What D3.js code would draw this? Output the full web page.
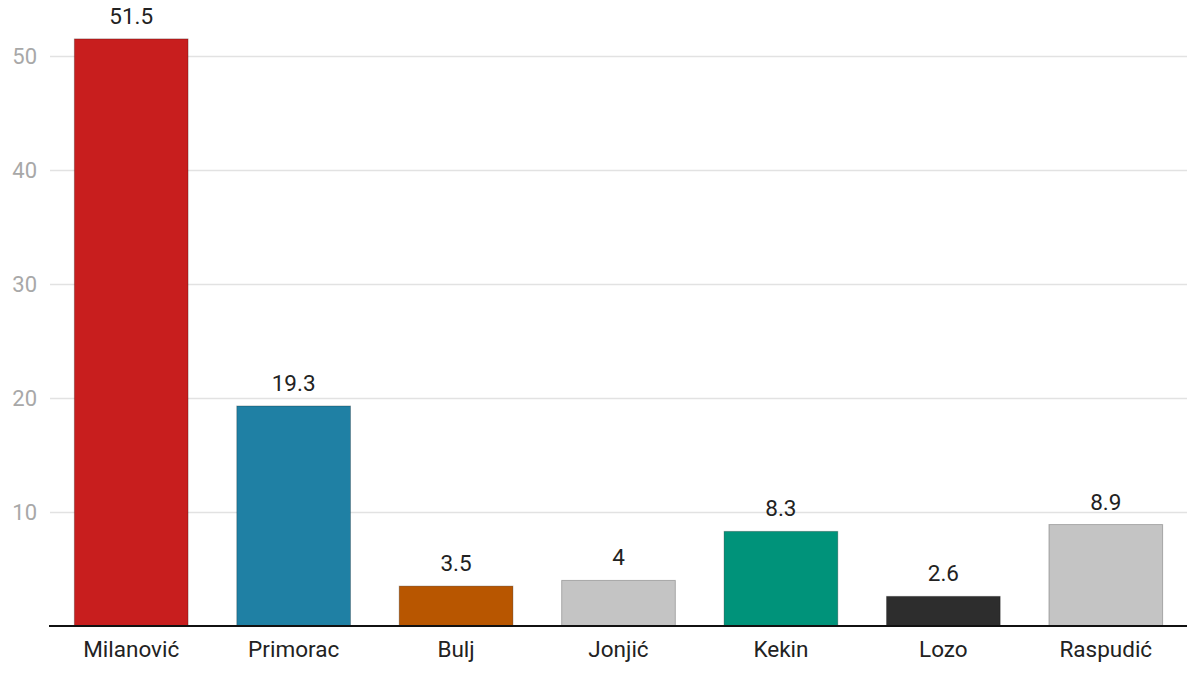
<!DOCTYPE html>
<html>
<head>
<meta charset="utf-8">
<script src="https://cdn.jsdelivr.net/npm/d3@7"></script>
<style>
  body { margin: 0; background: #fff; }
  text { font-family: Roboto, sans-serif; }
</style>
</head>
<body>
<div id="chart"></div>
<script>
const candidates = ['Milanović', 'Primorac', 'Bulj', 'Jonjić', 'Kekin', 'Lozo', 'Raspudić'];
const values = [51.5, 19.3, 3.5, 4, 8.3, 2.6, 8.9];
const colors = ['#c81e1e', '#1f80a4', '#b85600', '#c4c4c4', '#00937a', '#2d2d2d', '#c4c4c4'];
const yTicks = [10, 20, 30, 40, 50];

const data = candidates.map((name, i) => ({name, value: values[i], color: colors[i]}));

const width = 1200, height = 689;
const margin = {top: 56, right: 13, bottom: 63, left: 50};

const svg = d3.select('#chart')
  .append('svg')
  .attr('width', width)
  .attr('height', height);

const x = d3.scaleBand()
  .domain(candidates)
  .range([margin.left, width - margin.right])
  .paddingInner(0.3)
  .paddingOuter(0.15);

const y = d3.scaleLinear()
  .domain([0, 50])
  .range([height - margin.bottom, margin.top]);

// gridlines + y labels
const gy = svg.append('g')
  .attr('transform', `translate(${margin.left},0)`)
  .call(d3.axisLeft(y).tickValues(yTicks).tickSize(-(width - margin.left - margin.right)).tickPadding(13))
  .call(g => g.select('.domain').remove());
gy.selectAll('line').attr('stroke', '#e2e2e2').attr('stroke-width', 1.5);
gy.selectAll('text')
  .attr('fill', '#a8a8a8')
  .style('font-size', '22px');

// bars
svg.selectAll('rect.bar')
  .data(data)
  .join('rect')
  .attr('class', 'bar')
  .attr('x', d => x(d.name))
  .attr('y', d => y(d.value))
  .attr('width', x.bandwidth())
  .attr('height', d => y(0) - y(d.value))
  .attr('fill', d => d.color)
  .attr('stroke', 'rgba(0,0,0,0.25)')
  .attr('stroke-width', 1);

// value labels
svg.selectAll('text.val')
  .data(data)
  .join('text')
  .attr('class', 'val')
  .attr('x', d => x(d.name) + x.bandwidth() / 2)
  .attr('y', d => y(d.value) - 15)
  .attr('text-anchor', 'middle')
  .attr('fill', '#222')
  .style('font-size', '22.5px')
  .text(d => d.value);

// x axis
const gx = svg.append('g')
  .attr('transform', `translate(0,${y(0)})`)
  .call(d3.axisBottom(x).tickSize(0).tickPadding(15))
  .call(g => g.select('.domain').attr('stroke', '#111').attr('stroke-width', 2)
    .attr('d', `M${margin.left - 1},0H${width - margin.right}`));
gx.selectAll('text')
  .attr('fill', '#222')
  .style('font-size', '22.5px');
</script>
</body>
</html>
